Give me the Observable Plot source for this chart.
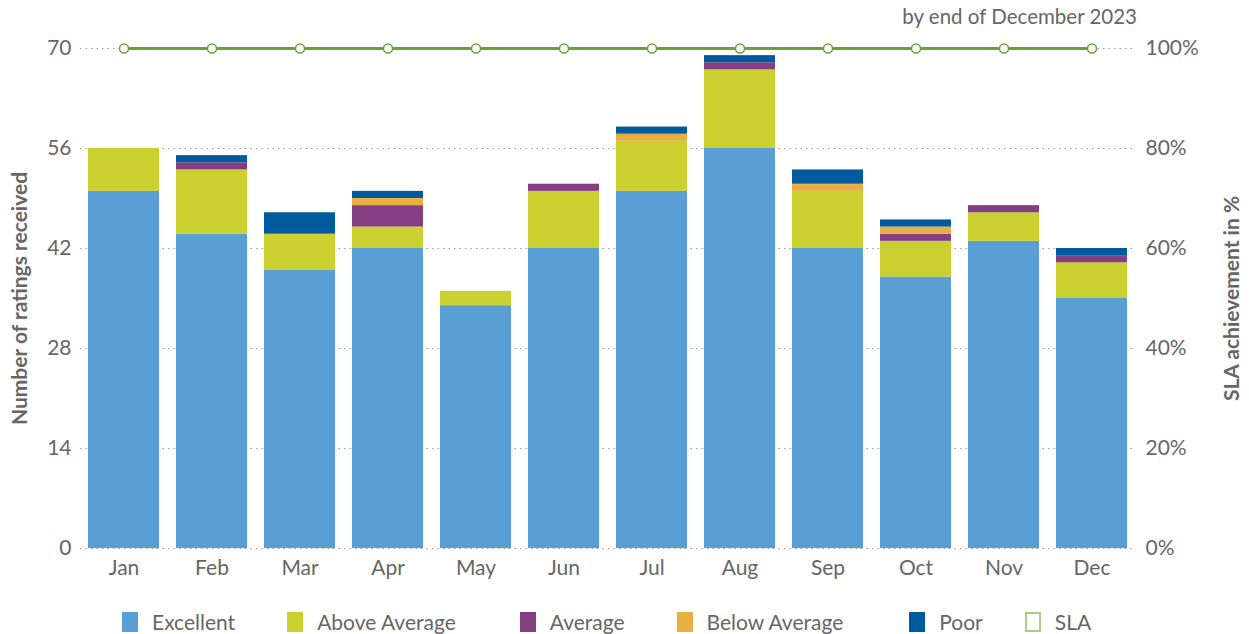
<!DOCTYPE html>
<html><head><meta charset="utf-8">
<script src="https://cdn.jsdelivr.net/npm/d3@7"></script>
<script src="https://cdn.jsdelivr.net/npm/@observablehq/plot@0.6"></script>
<style>
body{margin:0;background:#fff;font-family:Lato,"Open Sans",sans-serif;color:#666;width:1249px;}
#title{height:30px;box-sizing:border-box;text-align:right;padding-right:112px;padding-top:4px;font-size:20.5px;color:#666;}
#legend{display:flex;justify-content:flex-start;align-items:center;height:39px;margin-top:7px;padding-left:122px;font-size:21px;color:#666;}
.item{display:flex;align-items:center;}
.sw{width:16px;height:20px;margin-right:14px;box-sizing:border-box;}
g[aria-label="y-axis label"] text{font-weight:bold !important;font-size:21px !important;}
</style></head><body>
<div id="title">by end of December 2023</div>
<div id="chart"></div>
<div id="legend"></div>
<script>
const months = ["Jan","Feb","Mar","Apr","May","Jun","Jul","Aug","Sep","Oct","Nov","Dec"];
const categories = ["Excellent","Above Average","Average","Below Average","Poor"];
const excellent    = [50,44,39,42,34,42,50,56,42,38,43,35];
const aboveAverage = [6,9,5,3,2,8,7,11,8,5,4,5];
const average      = [0,1,0,3,0,1,0,1,0,1,1,1];
const belowAverage = [0,0,0,1,0,0,1,0,1,1,0,0];
const poor         = [0,1,3,1,0,0,1,1,2,1,0,1];
const slaPercent   = [100,100,100,100,100,100,100,100,100,100,100,100];
const yTicks = [0,14,28,42,56,70];
const yMax = 70;

const colors = ["#5a9fd4","#c9d02f","#843f83","#e8af43","#005b9e"];
const slaColor = "#6aa33a";
const legendGaps = [52,64,52,66,42,0];

const series = [excellent, aboveAverage, average, belowAverage, poor];
const rows = [];
months.forEach((m, i) => {
  categories.forEach((c, j) => rows.push({month: m, category: c, value: series[j][i]}));
});
const slaRows = months.map((m, i) => ({month: m, sla: slaPercent[i]}));

const chart = Plot.plot({
  width: 1249,
  height: 565,
  marginTop: 18,
  marginBottom: 47,
  marginLeft: 80,
  marginRight: 113,
  style: {fontFamily: "Lato, 'Open Sans', sans-serif", fontSize: "21px", color: "#666", background: "#fff"},
  x: {domain: months, paddingInner: 0.19, paddingOuter: 0.095},
  y: {domain: [0, yMax]},
  color: {domain: categories, range: colors},
  marks: [
    Plot.gridY(yTicks, {stroke: "#999", strokeOpacity: 1, strokeDasharray: "1.5,4", strokeWidth: 1.2}),
    Plot.barY(rows, {x: "month", y: "value", fill: "category"}),
    Plot.line(slaRows, {x: "month", y: d => d.sla * yMax / 100, stroke: slaColor, strokeWidth: 3}),
    Plot.dot(slaRows, {x: "month", y: d => d.sla * yMax / 100, r: 4.5, fill: "white", stroke: slaColor, strokeWidth: 1.5}),
    Plot.axisX({tickSize: 0, tickPadding: 12, label: null}),
    Plot.axisY(yTicks, {anchor: "left", tickSize: 0, tickPadding: 9, label: "Number of ratings received", labelAnchor: "center", labelOffset: 68, labelArrow: "none"}),
    Plot.axisY(yTicks, {anchor: "right", tickSize: 0, tickPadding: 9, tickFormat: d => `${Math.round(d / yMax * 100)}%`, label: "SLA achievement in %", labelAnchor: "center", labelOffset: 102, labelArrow: "none"})
  ]
});
document.getElementById("chart").appendChild(chart);

const legend = document.getElementById("legend");
const legendItems = categories.map((c, i) => ({label: c, fill: colors[i], border: colors[i]}))
  .concat([{label: "SLA", fill: "#fff", border: "#a6cf8a"}]);
legendItems.forEach((it, i) => {
  const d = document.createElement("div");
  d.className = "item";
  d.style.marginRight = legendGaps[i] + "px";
  d.innerHTML = `<div class="sw" style="background:${it.fill};border:${it.label === "SLA" ? "2px solid " + it.border : "none"}"></div><span>${it.label}</span>`;
  legend.appendChild(d);
});
</script>
</body></html>
